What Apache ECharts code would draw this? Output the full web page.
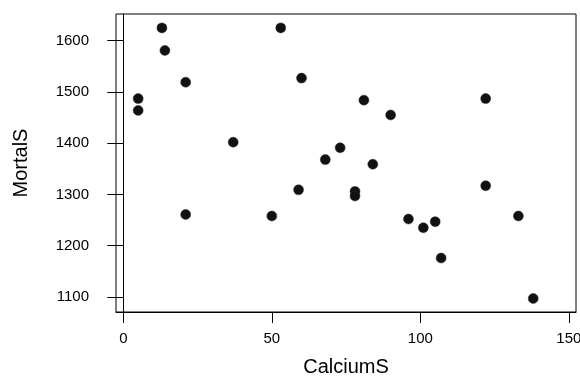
<!DOCTYPE html>
<html>
<head>
<meta charset="utf-8">
<script src="https://cdn.jsdelivr.net/npm/echarts@6/dist/echarts.min.js"></script>
<style>html,body{margin:0;padding:0;background:#fff;}#c{width:580px;height:376px;}</style>
</head>
<body>
<div id="c"></div>
<script>
const calcium = [13, 14, 21, 5, 5, 37, 53, 60, 68, 73, 81, 122, 90, 84, 21, 50, 59, 78, 78, 122, 96, 101, 105, 133, 107, 138];
const mortal  = [1625, 1581, 1519, 1487, 1464, 1402, 1625, 1527, 1368, 1391, 1484, 1487, 1455, 1359, 1261, 1258, 1309, 1306, 1297, 1317, 1252, 1235, 1247, 1258, 1176, 1097];
const xTicks = [0, 50, 100, 150];
const yTicks = [1100, 1200, 1300, 1400, 1500, 1600];

const points = calcium.map((c, i) => [c, mortal[i]]);
const font = 'Liberation Sans, Arial, sans-serif';
const chart = echarts.init(document.getElementById('c'), null, {renderer: 'canvas'});
chart.setOption({
  animation: false,
  backgroundColor: '#fff',
  grid: {left: 116, right: 4, top: 14, bottom: 64, show: true, borderColor: '#000', borderWidth: 1, backgroundColor: 'transparent', containLabel: false, outerBoundsMode: 'none'},
  xAxis: {
    type: 'value', min: -2.46, max: 152.4,
    name: 'CalciumS', nameLocation: 'middle', nameGap: 45,
    nameTextStyle: {fontFamily: font, fontSize: 20, color: '#000'},
    axisLine: {show: true, lineStyle: {color: '#000', width: 1}},
    axisTick: {show: true, length: 11, lineStyle: {color: '#000', width: 1}, customValues: xTicks},
    axisLabel: {show: true, margin: 19, fontFamily: font, fontSize: 15, color: '#000', customValues: xTicks, formatter: v => String(v)},
    splitLine: {show: false}
  },
  yAxis: {
    type: 'value', min: 1070.7, max: 1652.1,
    name: 'MortalS', nameLocation: 'middle', nameGap: 85, nameRotate: 90,
    nameTextStyle: {fontFamily: font, fontSize: 20, color: '#000'},
    axisLine: {show: true, lineStyle: {color: '#000', width: 1}},
    axisTick: {show: true, length: 16, lineStyle: {color: '#000', width: 1}, customValues: yTicks},
    axisLabel: {show: true, margin: 27, fontFamily: font, fontSize: 15, color: '#000', customValues: yTicks, formatter: v => String(v)},
    splitLine: {show: false}
  },
  series: [{
    type: 'scatter',
    data: points,
    symbol: 'circle',
    symbolSize: 10,
    itemStyle: {color: '#111', borderColor: '#333', borderWidth: 0.5, opacity: 1}
  }]
});
</script>
</body>
</html>
